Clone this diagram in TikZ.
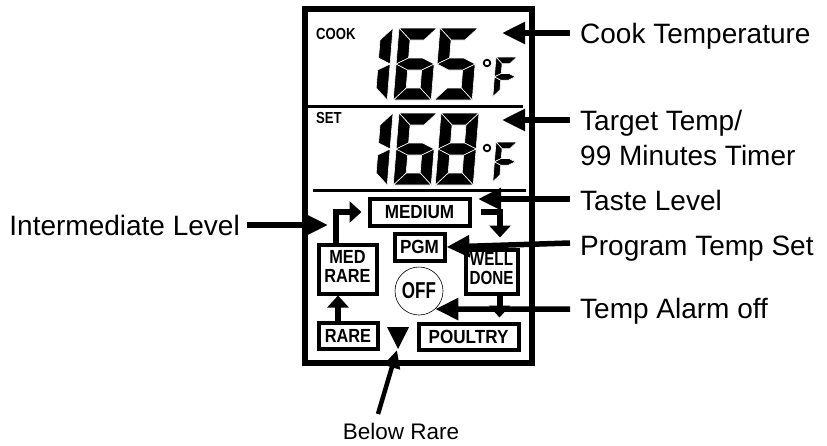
\documentclass[tikz,border=0pt]{standalone}
\usepackage{fontspec}
\setmainfont{Liberation Sans}
\usetikzlibrary{arrows.meta}

\newcommand{\lblfont}{\fontsize{28}{35}\selectfont}
\newcommand{\keyfont}{\fontsize{19}{19}\selectfont\bfseries}
\newcommand{\keytext}[2][0.9]{\scalebox{#1}[1]{#2}}

% segments of one lcd digit, cell 38 x 72
\def\lcdsega{(0,0) -- (38,0) -- (26,12) -- (12,12) -- cycle}
\def\lcdsegb{(38,0) -- (38,36) -- (26,30) -- (26,12) -- cycle}
\def\lcdsegc{(38,36) -- (38,72) -- (26,60) -- (26,42) -- cycle}
\def\lcdsegd{(0,72) -- (38,72) -- (26,60) -- (12,60) -- cycle}
\def\lcdsege{(0,36) -- (12,42) -- (12,60) -- (0,72) -- cycle}
\def\lcdsegf{(0,0) -- (12,12) -- (12,30) -- (0,36) -- cycle}
\def\lcdsegg{(0,36) -- (12,30) -- (26,30) -- (38,36) -- (26,42) -- (12,42) -- cycle}
\newcommand{\lcddigit}[4][1]{%
  \begin{scope}[shift={(#2,#3)}, xslant=0.08, scale=#1]
    \foreach \s in {#4} {\expandafter\fill\csname lcdseg\s\endcsname;}
  \end{scope}}

\begin{document}
\begin{tikzpicture}[x=1pt, y=-1pt,
    lbl/.style={anchor=base west, inner sep=0pt, font=\lblfont},
    keybox/.style={draw, line width=4pt, inner sep=0pt, font=\keyfont},
    lblarrow/.style={line width=5.5pt, -{Triangle[length=23pt,width=21pt]}},
    keyarrow/.style={line width=6pt, -{Triangle[length=12pt,width=21pt]}}]
  \useasboundingbox (0,0) rectangle (827,445);

  % display frame
  \draw[line width=6pt] (305,9) rectangle (532,363);
  \draw[line width=3pt] (305,106) -- (523,106);
  \draw[line width=3pt] (313,190) -- (526,190);

  % readouts
  \node[anchor=base west, inner sep=0pt, font=\fontsize{16}{16}\selectfont\bfseries] (cooktxt) at (316,39) {\scalebox{0.82}[1]{COOK}};
  \node[anchor=base west, inner sep=0pt, font=\fontsize{16}{16}\selectfont\bfseries] (settxt) at (316,123) {\scalebox{0.82}[1]{SET}};
  \begin{scope}[every path/.style={fill=black, draw=white, line width=0.6pt}]
    \lcddigit{355}{28}{b,c}
    \lcddigit{399}{28}{a,c,d,e,f,g}
    \lcddigit{440}{28}{a,c,d,f,g}
    \lcddigit[0.55]{496}{57}{a,e,f,g}
    \lcddigit{355}{113}{b,c}
    \lcddigit{399}{113}{a,c,d,e,f,g}
    \lcddigit{441}{113}{a,b,c,d,e,f,g}
    \lcddigit[0.55]{496}{142}{a,e,f,g}
  \end{scope}
  \draw[line width=1.8pt] (487,63) circle (3.3);
  \draw[line width=1.8pt] (487,148) circle (3.3);

  % keys
  \node[keybox, minimum width=100pt, minimum height=27pt] (medium) at (419.5,212) {\keytext{MEDIUM}};
  \node[keybox, minimum width=50pt, minimum height=27pt] (pgm) at (419.5,247) {\keytext{PGM}};
  \node[keybox, minimum width=58pt, minimum height=49pt] (medrare) at (347.5,269)
    {\keytext[0.86]{\begin{tabular}{@{}c@{}}MED\\RARE\end{tabular}}};
  \node[keybox, minimum width=52pt, minimum height=44pt] (welldone) at (491.5,271.5)
    {\keytext[0.8]{\begin{tabular}{@{}c@{}}WELL\\DONE\end{tabular}}};
  \node[keybox, minimum width=59pt, minimum height=26pt] (rare) at (348,335.5) {\keytext[0.86]{RARE}};
  \node[keybox, minimum width=100pt, minimum height=26pt] (poultry) at (468.5,336.5) {\keytext{POULTRY}};
  \node[draw, circle, line width=0.6pt, minimum size=48pt, inner sep=0pt,
    font=\fontsize{23}{23}\selectfont\bfseries] (off) at (419,291) {\scalebox{0.74}[1]{OFF}};
  \fill (387,327) -- (409,327) -- (398,349) -- cycle;
  \coordinate (downmark) at (397,350);

  % key arrows
  \draw[keyarrow, shorten >=6pt] ([xshift=-12pt]medrare.north) |- (medium.west);
  \draw[keyarrow] ([xshift=9pt]medium.east) -| ([xshift=8.5pt,yshift=10pt]welldone.north);
  \draw[keyarrow, shorten >=4pt] ([xshift=8pt]welldone.south) -- ([xshift=8pt]welldone.south |- poultry.north);
  \draw[keyarrow] ([xshift=-10pt]rare.north) -- ([xshift=-10pt]rare.north |- medrare.south);

  % labels
  \node[lbl] (cook) at (580,43) {Cook Temperature};
  \node[lbl, align=left] (target) at (580,165) {Target Temp/\\99 Minutes Timer};
  \node[lbl] (taste) at (580,210) {Taste Level};
  \node[lbl] (program) at (580,255) {Program Temp Set};
  \node[lbl] (alarm) at (580,318) {Temp Alarm off};
  \node[lbl, anchor=base east] (inter) at (240,235) {Intermediate Level};
  \node[lbl, anchor=base, font=\fontsize{22.5}{26}\selectfont] (below) at (401,439) {Below Rare};

  \coordinate (cooktip) at (502,33);
  \coordinate (cooktail) at (570,33);
  \coordinate (targettip) at (502,120);
  \coordinate (targettail) at (570,120);
  \coordinate (tastetip) at (478,199);
  \coordinate (tastetail) at (570,199);
  \coordinate (programtail) at (570,243);
  \coordinate (alarmtail) at (570,309);
  \coordinate (intertail) at (247,225);
  \coordinate (intertip) at (328,225);
  \coordinate (belowtail) at (378,414);

  \draw[lblarrow] (cooktail) -- (cooktip);
  \draw[lblarrow] (targettail) -- (targettip);
  \draw[lblarrow] (tastetail) -- (tastetip);
  \draw[lblarrow] (programtail) -- (pgm.east);
  \draw[lblarrow] (alarmtail) -- (off.-48);
  \draw[lblarrow] (intertail) -- (intertip);
  \draw[line width=4.5pt, -{Triangle[length=18pt,width=16pt]}] (belowtail) -- (downmark);
\end{tikzpicture}
\end{document}
